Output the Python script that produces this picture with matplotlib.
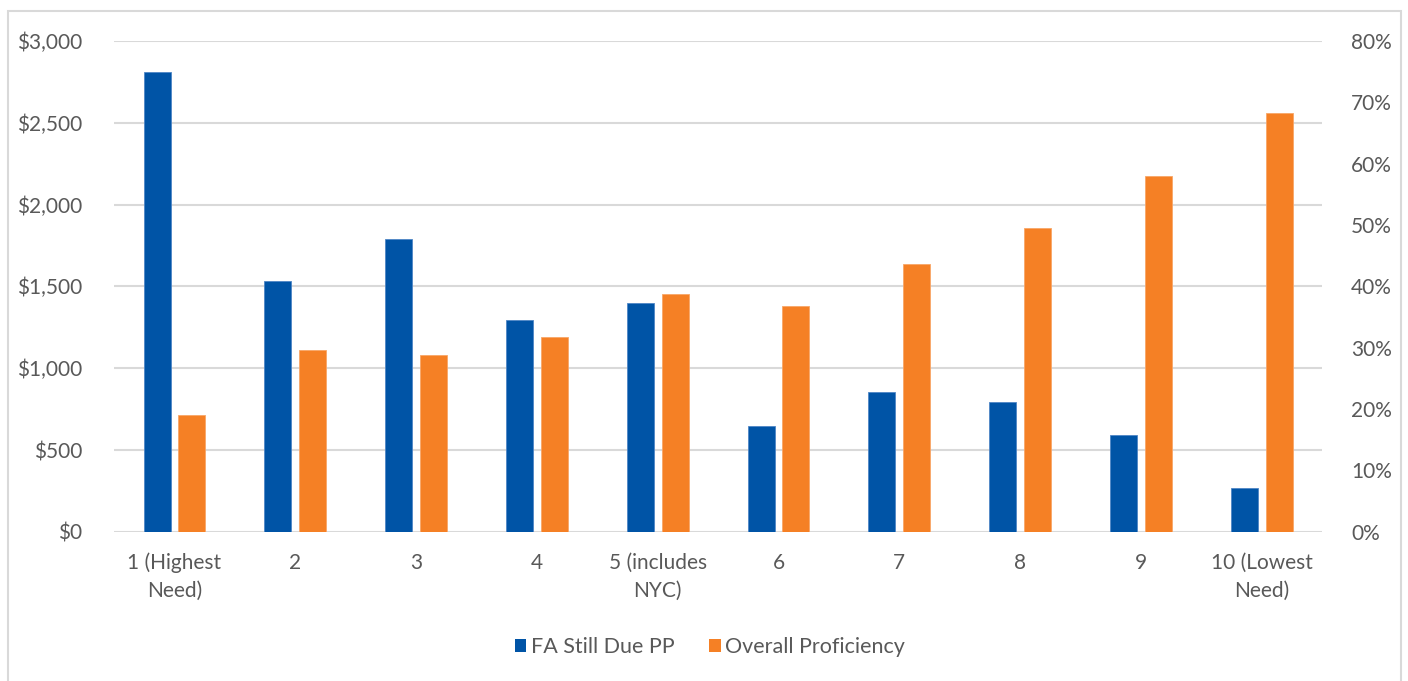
import numpy as np
import matplotlib.pyplot as plt
from matplotlib.patches import Patch, Rectangle
from matplotlib.ticker import FuncFormatter

plt.rcParams['font.family'] = ['Lato', 'DejaVu Sans']

# Need index groups, highest need to lowest need
groups = ["1 (Highest\nNeed)", "2", "3", "4", "5 (includes\nNYC)",
          "6", "7", "8", "9", "10 (Lowest\nNeed)"]
fa_still_due = [2810, 1530, 1790, 1293, 1401, 644, 855, 794, 592, 269]
proficiency = [19.1, 29.6, 28.8, 31.7, 38.8, 36.8, 43.6, 49.5, 57.9, 68.2]

blue = "#0054A6"
orange = "#F58025"
text_gray = "#595959"
grid_gray = "#D9D9D9"

fig = plt.figure(figsize=(14.08, 6.81), dpi=100)
ax = fig.add_axes([0.081, 0.219, 0.858, 0.721])
ax2 = ax.twinx()

x = np.arange(len(groups))
width = 0.224
offset = 0.144
ax.bar(x - offset, fa_still_due, width, color=blue, edgecolor="#4F86C6",
       linewidth=0.6, zorder=3)
ax2.bar(x + offset, np.array(proficiency) / 100, width, color=orange,
        edgecolor="#F8A668", linewidth=0.6, zorder=3)

ax.set_xlim(-0.5, len(groups) - 0.5)
ax.set_ylim(0, 3000)
ax.set_yticks(np.arange(0, 3001, 500))
ax.yaxis.set_major_formatter(FuncFormatter(lambda v, _: f"${v:,.0f}"))
ax2.set_ylim(0, 0.8)
ax2.set_yticks(np.arange(0, 0.81, 0.1))
ax2.yaxis.set_major_formatter(FuncFormatter(lambda v, _: f"{v:.0%}"))

ax.set_xticks(x)
ax.set_xticklabels(groups, linespacing=1.5)

ax.grid(axis="y", color=grid_gray, linewidth=1.5, zorder=0)
ax.set_axisbelow(True)
ax2.set_zorder(ax.get_zorder() + 1)
ax2.patch.set_visible(False)

for a in (ax, ax2):
    for side in a.spines.values():
        side.set_visible(False)
    a.tick_params(length=0, labelsize=15, labelcolor=text_gray)
ax.tick_params(axis="y", pad=23)
ax2.tick_params(axis="y", pad=21)
ax.tick_params(axis="x", pad=15)

handles = [Patch(facecolor=blue), Patch(facecolor=orange)]
fig.legend(handles, ["FA Still Due PP", "Overall Proficiency"],
           loc="center", bbox_to_anchor=(0.504, 0.05), ncol=2, frameon=False,
           fontsize=15.5, labelcolor=text_gray, handlelength=0.55,
           handleheight=0.55, handletextpad=0.2, columnspacing=1.6)

# light frame round the whole chart
fig.patches.append(Rectangle((8 / 1408, -0.02), 1393 / 1408, 1 - 11 / 681 + 0.02,
                             transform=fig.transFigure, fill=False,
                             edgecolor=grid_gray, linewidth=1.5))

fig.savefig("out.png", dpi=100, facecolor="white")
